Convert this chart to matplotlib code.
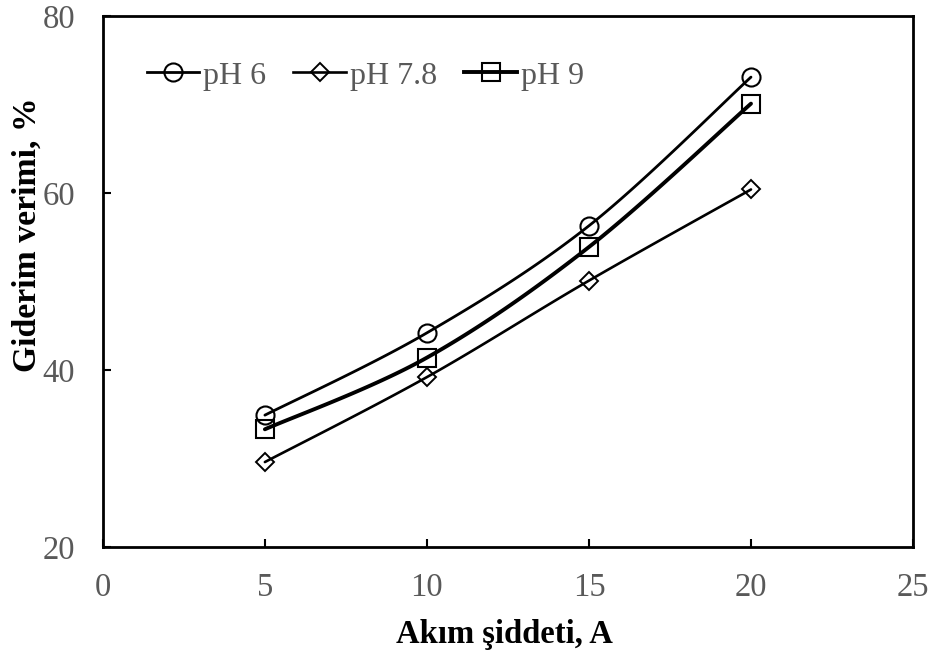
import numpy as np
import matplotlib
matplotlib.use("Agg")
import matplotlib.pyplot as plt
from matplotlib.lines import Line2D

plt.rcParams['font.family'] = ['Liberation Serif', 'DejaVu Serif']

current = [5, 10, 15, 20]
ph6 = [34.9, 44.2, 56.3, 73.1]
ph78 = [29.6, 39.2, 50.1, 60.4]
ph9 = [33.3, 41.4, 53.9, 70.1]
labels = ['pH 6', 'pH 7.8', 'pH 9']
x_ticks = [0, 5, 10, 15, 20, 25]
y_ticks = [20, 40, 60, 80]


def smooth(x, y, n=40):
    """Excel-like smoothed line (Catmull-Rom Bezier) through the points."""
    x = np.asarray(x, float)
    y = np.asarray(y, float)
    sx, sy = 25.0 / 810.0, 60.0 / 531.0
    px, py = x / sx, y / sy
    P = np.column_stack([px, py])
    out = []
    for i in range(len(P) - 1):
        p0 = P[i - 1] if i > 0 else P[i]
        p1 = P[i]
        p2 = P[i + 1]
        p3 = P[i + 2] if i + 2 < len(P) else P[i + 1]
        c1 = p1 + (p2 - p0) / 6.0
        c2 = p2 - (p3 - p1) / 6.0
        t = np.linspace(0, 1, n)[:, None]
        seg = ((1 - t) ** 3) * p1 + 3 * ((1 - t) ** 2) * t * c1 + 3 * (1 - t) * t ** 2 * c2 + t ** 3 * p2
        if i > 0:
            seg = seg[1:]
        out.append(seg)
    out = np.vstack(out)
    return out[:, 0] * sx, out[:, 1] * sy


fig = plt.figure(figsize=(9.35, 6.54), dpi=100)
ax = fig.add_axes([0.110, 0.1636, 0.8665, 0.8119])

styles = [
    (ph6, 'o', 13, 2.0, 1.5),
    (ph78, 'D', 9.2, 1.9, 1.4),
    (ph9, 's', 13.5, 2.8, 1.5),
]
handles = []
for (vals, mk, ms, lw, mew), lab in zip(styles, labels):
    sx_, sy_ = smooth(current, vals)
    ax.plot(sx_, sy_, color='black', lw=lw, solid_capstyle='round', zorder=2)
    ax.plot(current, vals, linestyle='none', marker=mk, markersize=ms,
            markerfacecolor='none', markeredgecolor='black', markeredgewidth=mew, zorder=3)
    handles.append(Line2D([], [], color='black', lw=lw, marker=mk, markersize=ms,
                          markerfacecolor='none', markeredgecolor='black',
                          markeredgewidth=mew, label=lab))

ax.set_xlim(0, 25)
ax.set_ylim(20, 80)
ax.set_xticks(x_ticks)
ax.set_yticks(y_ticks)
ax.tick_params(axis='both', direction='in', length=6, width=1.5,
               labelsize=23.5, labelcolor='#595959', color='black')
ax.tick_params(axis='x', pad=18)
ax.tick_params(axis='y', pad=20)
for sp in ax.spines.values():
    sp.set_linewidth(2.0)
    sp.set_color('black')

ax.set_xlabel('Akım şiddeti, A', fontsize=23.5, fontweight='bold')
ax.set_ylabel('Giderim verimi, %', fontsize=24.3, fontweight='bold')
ax.xaxis.set_label_coords(0.4955, -0.1355)
ax.yaxis.set_label_coords(-0.0745, 0.5876)

leg = ax.legend(handles=handles, loc='upper left', bbox_to_anchor=(0.054, 0.915),
                ncol=3, frameon=False, fontsize=23, handlelength=1.65,
                handletextpad=0.12, columnspacing=0.85, borderpad=0,
                borderaxespad=0, numpoints=1)
for t in leg.get_texts():
    t.set_color('#595959')

fig.savefig('out.png', dpi=100)
